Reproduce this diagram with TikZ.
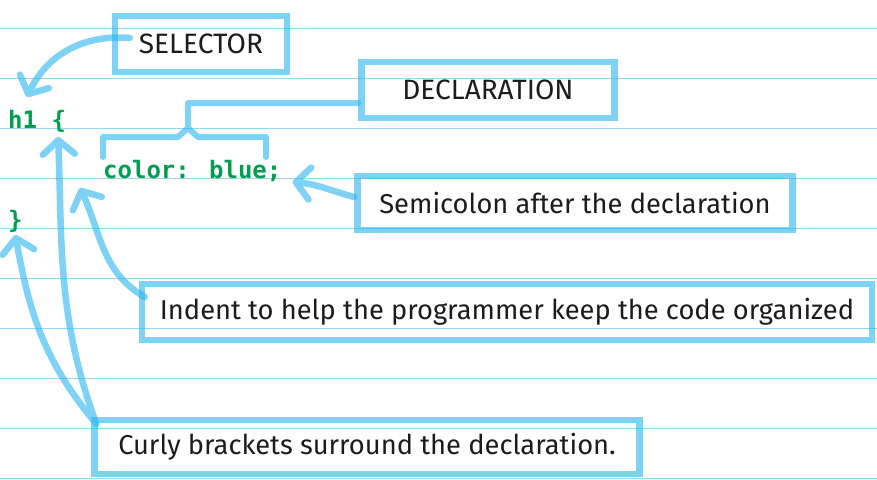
\documentclass[tikz,border=0pt]{standalone}
\usepackage{fontspec}
\newfontfamily\handfont{Fira Sans}
\newfontfamily\codefont{DejaVu Sans Mono}
\usepackage{tikz}
\usetikzlibrary{arrows.meta,positioning,calc}

\definecolor{marker}{RGB}{38,180,238}
\definecolor{ink}{RGB}{28,28,28}
\definecolor{codegreen}{RGB}{0,158,80}

\begin{document}
\begin{tikzpicture}[x=1pt, y=1pt,
  callout/.style={draw=marker, draw opacity=.6, line width=6.5pt, inner sep=0pt, minimum height=56pt, font=\handfont\fontsize{27.3}{30}\selectfont, text=ink},
  heading/.style={callout, font=\handfont\fontsize{28}{30}\selectfont},
  code/.style={font=\codefont\bfseries\fontsize{24}{28}\selectfont, text=codegreen, inner sep=0pt, anchor=base west},
  pointer/.style={marker, line width=6.5pt, line cap=round, -{Straight Barb[round, length=14pt, width=32pt]}},
  pen/.style={marker, line width=6pt, line cap=round, line join=round},
  rule/.style={marker, opacity=.5, line width=1.8pt}
]
\useasboundingbox (0,0) rectangle (877,-479);

% ruled paper
\foreach \y in {28.5,78.5,...,478.5}
  \draw[rule] (0,-\y) -- (877,-\y);

% the css rule
\node[code] (open) at (8,-128) {h1 \{};
\node[code] (prop) at (103,-178) {color: blue;};
\node[code] (close) at (8,-228) {\}};

% callouts
\node[heading, minimum width=172pt] (sel) at (201,-44) {SELECTOR};
\node[heading, minimum width=253pt] (decl) at (488,-90) {DECLARATION};
\node[callout, minimum width=435pt, minimum height=54pt] (semi) at (575,-203) {Semicolon after the declaration};
\node[callout, minimum width=730pt] (indent) at (507,-312) {Indent to help the programmer keep the code organized};
\node[callout, minimum width=545pt, minimum height=54pt] (curly) at (367,-447) {Curly brackets surround the declaration.};

\begin{scope}[transparency group, opacity=.6]
% brace over the declaration
\draw[pen] ($(decl.west)+(0,-13)$) -- (188,-103) -- (188,-128) -- (178,-137) -| (103,-157);
\draw[pen] (188,-128) -- (198,-137) -| (266,-157);

\draw[pointer] ($(sel.west)+(18,6)$) to[out=175, in=65] ($(open.base west)+(19,31)$);
\draw[pointer] ($(semi.west)+(0,6)$) to[out=165, in=-5] ($(prop.base east)+(11,-4)$);
\draw[pointer] ($(indent.west)+(6,15)$) to[out=150, in=-65] ($(prop.base west)+(-23,-10)$);
\draw[pointer] ($(curly.north west)+(5,-7)$) to[out=110, in=-88] ($(open.base east)+(-8,-9)$);
\draw[pointer] ($(curly.north west)+(5,-7)$) to[out=130, in=-80] ($(close.base)+(0,-7)$);
\end{scope}
\end{tikzpicture}
\end{document}
